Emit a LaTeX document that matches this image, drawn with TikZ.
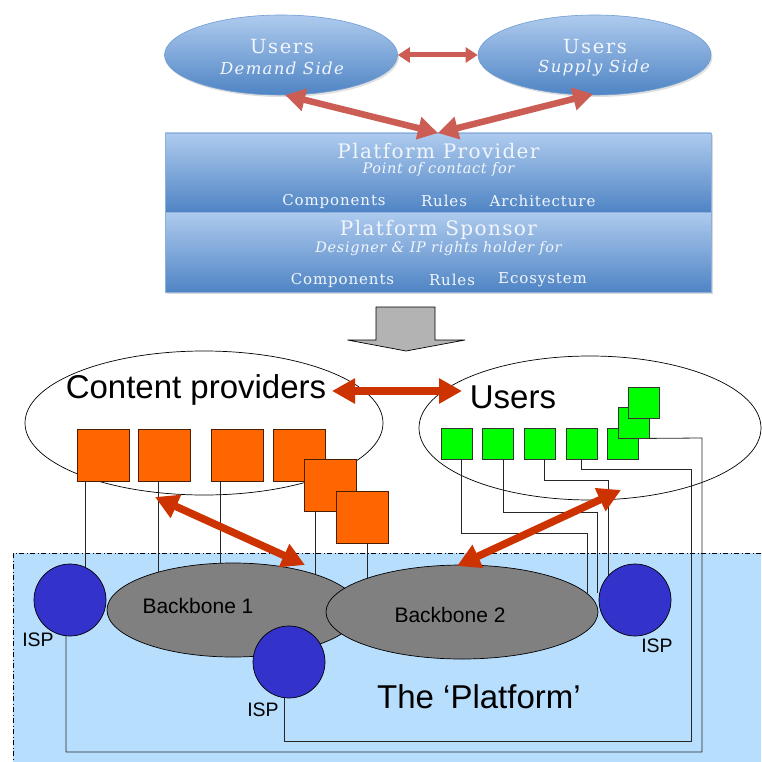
\documentclass[tikz,border=0pt]{standalone}
\usepackage{fontspec}
\setmainfont{Liberation Sans}
\newfontfamily\ovalface[LetterSpace=8]{DejaVu Serif}
\newfontfamily\headface[LetterSpace=7]{DejaVu Serif}
\newfontfamily\subface[LetterSpace=4.5]{DejaVu Serif}
\newfontfamily\itemface[LetterSpace=6]{DejaVu Serif}
\usetikzlibrary{shapes.geometric,arrows.meta,shadows}

\definecolor{skylight}{HTML}{AECBEE}
\definecolor{skydark}{HTML}{4F84C4}
\definecolor{skyline}{HTML}{6F9CD2}
\definecolor{salmon}{HTML}{CB5D55}
\definecolor{rust}{HTML}{CC3300}
\definecolor{poolblue}{HTML}{B8DEFE}
\definecolor{ispblue}{HTML}{3333CC}
\definecolor{bbgray}{HTML}{808080}
\definecolor{cporange}{HTML}{FF6600}
\definecolor{cpedge}{HTML}{4A1E00}
\definecolor{usergreen}{HTML}{00FF00}
\definecolor{blockgray}{HTML}{B3B3B3}
\definecolor{paletext}{HTML}{F2F6FC}

\tikzset{
  sideoval/.style={ellipse, draw=skyline, line width=0.6pt,
    top color=skylight, bottom color=skydark,
    minimum width=233pt, minimum height=80pt, inner sep=0pt,
    drop shadow={opacity=0.25, shadow xshift=1.5pt, shadow yshift=-2pt}},
  panel/.style={rectangle, draw=skyline!80, line width=0.6pt,
    top color=skylight, bottom color=skydark,
    minimum width=546pt, inner sep=0pt,
    drop shadow={opacity=0.3, shadow xshift=2pt, shadow yshift=-2pt}},
  ovaltext/.style={text=paletext, font=\ovalface\fontsize{19.5}{22}\selectfont},
  ovalsub/.style={text=paletext, font=\ovalface\itshape\fontsize{16.5}{19}\selectfont},
  panelhead/.style={text=paletext, font=\headface\fontsize{20}{23}\selectfont},
  panelsub/.style={text=paletext, font=\subface\itshape\fontsize{14.5}{17}\selectfont},
  panelitem/.style={text=paletext, font=\itemface\fontsize{15}{17}\selectfont},
  smallarrow/.style={draw=salmon, line width=5pt,
    {Triangle[length=12pt,width=15pt]}-{Triangle[length=12pt,width=15pt]}},
  toparrow/.style={draw=salmon, line width=6.5pt,
    {Triangle[length=20pt,width=22pt]}-{Triangle[length=20pt,width=22pt]}},
  bigarrow/.style={draw=rust, line width=7.5pt,
    {Triangle[length=23pt,width=24pt]}-{Triangle[length=23pt,width=24pt]}},
  groupoval/.style={ellipse, draw=black, line width=0.7pt, inner sep=0pt},
  cpbox/.style={rectangle, draw=cpedge, line width=0.8pt, fill=cporange,
    minimum size=52pt, inner sep=0pt},
  userbox/.style={rectangle, draw=black!80, line width=0.8pt, fill=usergreen,
    minimum size=31pt, inner sep=0pt},
  isp/.style={circle, draw=black, line width=0.7pt, fill=ispblue,
    minimum size=72pt, inner sep=0pt},
  backbone/.style={ellipse, draw=black, line width=0.7pt, fill=bbgray,
    inner sep=0pt},
  wire/.style={draw=black!85, line width=0.8pt},
  biglabel/.style={font=\fontsize{33}{38}\selectfont},
  bblabel/.style={font=\fontsize{21}{24}\selectfont},
  isplabel/.style={font=\fontsize{19.5}{22}\selectfont},
}

\begin{document}
\begin{tikzpicture}[x=1pt,y=-1pt]
\useasboundingbox (0,0) rectangle (761,762);

% ---------- upper model: users and platform roles ----------
\node[sideoval] (dem) at (281,55) {};
\node[sideoval] (sup) at (594.5,55) {};
\node[ovaltext] (demt) at (282,47) {Users};
\node[ovalsub]  (dems) at (282,68) {Demand Side};
\node[ovaltext] (supt) at (595,47) {Users};
\node[ovalsub]  (sups) at (594,68) {Supply Side};

\node[panel, minimum height=79pt] (prov) at (438,172.5) {};
\node[panel, minimum height=80pt] (spon) at (438,252) {};

\node[panelhead] (provh) at (438.5,151) {Platform Provider};
\node[panelsub]  (provs) at (438.5,170) {Point of contact for};
\node[panelitem] (provc) at (334,201) {Components};
\node[panelitem] (provr) at (444,201) {Rules};
\node[panelitem] (prova) at (542.5,201) {Architecture};

\node[panelhead] (sponh) at (438.5,230) {Platform Sponsor};
\node[panelsub]  (spons) at (438.5,249) {Designer \& IP rights holder for};
\node[panelitem] (sponc) at (342.5,280) {Components};
\node[panelitem] (sponr) at (452,280) {Rules};
\node[panelitem] (spone) at (542.5,280) {Ecosystem};

\coordinate (demfoot) at (285,95);
\coordinate (supfoot) at (593,94);
\coordinate (meet) at (438,133);
\draw[smallarrow] (dem.east) -- (sup.west);
\draw[toparrow] (demfoot) -- (meet);
\draw[toparrow] (supfoot) -- (meet);

% transition arrow
\draw[fill=blockgray, draw=black, line width=0.7pt]
  (376,307) -- (435,307) -- (435,340) -- (465,340) -- (406,351)
  -- (347.5,340) -- (376,340) -- cycle;

% ---------- lower model: the network platform ----------
\fill[poolblue] (13,553) rectangle (761,762);
\draw[line width=0.7pt, dash pattern=on 5pt off 2.5pt on 1pt off 2.5pt]
  (761,553) -- (13,553) -- (13,762);

% groups
\node[groupoval, minimum width=358pt, minimum height=144pt] (cpg) at (204,423) {};
\node[groupoval, minimum width=342pt, minimum height=144pt] (usg) at (590,428) {};

% content providers
\node[cpbox] (o1) at (103,455.5) {};
\node[cpbox] (o2) at (164,455) {};
\node[cpbox] (o3) at (237,455) {};
\node[cpbox] (o4) at (299.5,455) {};
\node[cpbox] (o5) at (330.5,485.5) {};
\node[cpbox] (o6) at (362,517) {};

% users
\node[userbox] (g1) at (456.5,443.5) {};
\node[userbox] (g2) at (497.5,443.5) {};
\node[userbox] (g3) at (539.5,443.5) {};
\node[userbox] (g4) at (581.5,443.5) {};
\node[userbox] (g5) at (622.5,443.5) {};
\node[userbox] (g6) at (633.5,422.5) {};
\node[userbox] (g7) at (644,402.5) {};

% access lines from content providers
\draw[wire] (o1.south west) ++(9,0) -- ++(0,100);
\draw[wire] (o2.south west) ++(21,0) -- ++(0,100);
\draw[wire] (o3.south west) ++(10,0) -- ++(0,100);
\draw[wire] (o5.south west) ++(11,0) -- ++(0,70);
\draw[wire] (o6.south west) ++(32,0) -- ++(0,40);

% access lines from users
\coordinate (w1) at (587,593);
\coordinate (w2) at (597,593);
\coordinate (w3) at (608,590);
\draw[wire] (g1.south) ++(4.5,0) |- (587,533) -- (w1);
\draw[wire] (g2.south) ++(5.5,0) |- (597,512) -- (w2);
\draw[wire] (g3.south) ++(4.5,0) |- (608,480) -- (w3);

% backbone nodes
\node[backbone, minimum width=252pt, minimum height=94pt] (bb1) at (233,610) {};
\node[backbone, minimum width=272pt, minimum height=94pt] (bb2) at (462,612) {};
\node[bblabel] (bb1t) at (198,606) {Backbone 1};
\node[bblabel] (bb2t) at (450,615) {Backbone 2};

% ISPs and their long-haul lines
\draw[wire] (66,620) -- (66,752) -| (702,438) -- (g6.south east);
\draw[wire] (284,680) -- (284,741) -| (691,469) -| (g4.south);
\node[isp] (ispL) at (70,600) {};
\node[isp] (ispM) at (289,662) {};
\node[isp] (ispR) at (635,600) {};
\node[isplabel] (ispLt) at (38,640) {ISP};
\node[isplabel] (ispMt) at (263,710) {ISP};
\node[isplabel] (ispRt) at (657,646) {ISP};

\node[biglabel] (plat) at (479,697) {The ‘Platform’};
\node[biglabel] (cpt) at (196,390) {Content providers};
\node[biglabel] (ust) at (513,397) {Users};

% interaction arrows
\coordinate (cpEnd) at (332,391);
\coordinate (usEnd) at (462,391);
\coordinate (cpLow) at (155,497);
\coordinate (bb1Top) at (305,565);
\coordinate (usLow) at (621,490);
\coordinate (bb2Top) at (457,566);
\draw[bigarrow] (cpEnd) -- (usEnd);
\draw[bigarrow] (cpLow) -- (bb1Top);
\draw[bigarrow] (usLow) -- (bb2Top);
\end{tikzpicture}
\end{document}
